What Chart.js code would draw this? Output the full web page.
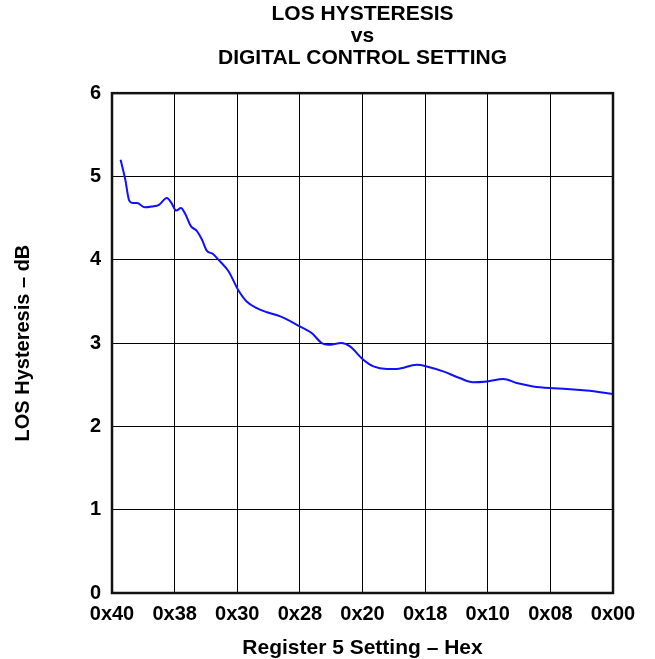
<!DOCTYPE html>
<html>
<head>
<meta charset="utf-8">
<script src="https://cdn.jsdelivr.net/npm/chart.js@4"></script>
<style>
  html, body { margin: 0; padding: 0; background: #fff; }
  #wrap { width: 655px; height: 659px; }
</style>
</head>
<body>
<div id="wrap"><canvas id="chart" width="655" height="659"></canvas></div>
<script>
// Register 5 setting (decimal value of the hex code) vs LOS hysteresis in dB
const regSetting = [62.9, 62.3, 61.8, 61.3, 60.8, 59.8, 58.9, 58.0, 57.0, 56.4, 55.8, 55.2,
  54.7, 53.9, 53.2, 52.5, 51.9, 51.1, 50.2, 49.1, 47.9, 46.8, 45.5, 44.2, 42.5, 40.0,
  38.5, 37.2, 36.4, 34.7, 33.6, 31.9, 30.6, 28.9, 27.6, 25.1, 23.8, 21.7, 19.6, 17.9,
  16.1, 14.0, 12.3, 10.2, 8.1, 5.9, 3.4, 0];
const hysteresis = [5.20, 4.96, 4.71, 4.68, 4.68, 4.63, 4.64, 4.66, 4.74, 4.68, 4.59, 4.62,
  4.56, 4.40, 4.35, 4.24, 4.11, 4.07, 3.98, 3.86, 3.64, 3.50, 3.42, 3.37, 3.32, 3.20,
  3.12, 3.00, 2.98, 3.00, 2.96, 2.80, 2.72, 2.69, 2.69, 2.74, 2.72, 2.66, 2.58, 2.53,
  2.54, 2.57, 2.52, 2.48, 2.46, 2.45, 2.43, 2.39];

// tick positions and their hex labels
const xTickValues = [64, 56, 48, 40, 32, 24, 16, 8, 0];
const xTickLabels = ['0x40', '0x38', '0x30', '0x28', '0x20', '0x18', '0x10', '0x08', '0x00'];
const yTickValues = [0, 1, 2, 3, 4, 5, 6];

const FONT = 'Arial, "Liberation Sans", Helvetica, sans-serif';

// frame around the plot area (thicker than the grid) + title centred over the plot
const frame = {
  id: 'frame',
  afterLayout(chart) {
    const t = chart.titleBlock, a = chart.chartArea;
    if (t) { t.left = a.left; t.right = a.right; t.width = a.right - a.left; }
  },
  afterDatasetsDraw(chart) {
    const a = chart.chartArea, ctx = chart.ctx;
    ctx.save();
    ctx.strokeStyle = '#111';
    ctx.lineWidth = 2.5;
    ctx.strokeRect(a.left, a.top, a.right - a.left, a.bottom - a.top);
    ctx.restore();
  }
};

new Chart(document.getElementById('chart'), {
  type: 'line',
  data: {
    datasets: [{
      data: regSetting.map((x, i) => ({ x: x, y: hysteresis[i] })),
      borderColor: '#1010ff',
      borderWidth: 2,
      pointRadius: 0,
      cubicInterpolationMode: 'monotone',
      fill: false
    }]
  },
  options: {
    responsive: false,
    animation: false,
    layout: { padding: { left: 0, right: 42, top: 0, bottom: 0 } },
    plugins: {
      legend: { display: false },
      tooltip: { enabled: false },
      title: {
        display: true,
        text: ['LOS HYSTERESIS', 'vs', 'DIGITAL CONTROL SETTING'],
        color: '#000',
        font: { family: FONT, size: 21, weight: 'bold', lineHeight: 1.05 },
        padding: { top: 3, bottom: 24 }
      }
    },
    scales: {
      x: {
        type: 'linear',
        min: 0,
        max: 64,
        reverse: true,
        afterFit: s => { s.height = 66; },
        afterBuildTicks: s => { s.ticks = xTickValues.map(v => ({ value: v })); },
        ticks: {
          color: '#000',
          padding: 9,
          maxRotation: 0,
          font: { family: FONT, size: 20, weight: 'bold' },
          callback: v => xTickLabels[xTickValues.indexOf(v)]
        },
        grid: { color: '#000', lineWidth: 1, drawTicks: false },
        border: { display: false },
        title: {
          display: true,
          text: 'Register 5 Setting – Hex',
          color: '#000',
          font: { family: FONT, size: 21, weight: 'bold', lineHeight: 1 },
          padding: { top: 0, bottom: 0 }
        }
      },
      y: {
        min: 0,
        max: 6,
        afterFit: s => { s.width = 112; },
        afterBuildTicks: s => { s.ticks = yTickValues.map(v => ({ value: v })); },
        ticks: {
          color: '#000',
          padding: 11,
          font: { family: FONT, size: 20, weight: 'bold' }
        },
        grid: { color: '#000', lineWidth: 1, drawTicks: false },
        border: { display: false },
        title: {
          display: true,
          text: 'LOS Hysteresis – dB',
          color: '#000',
          font: { family: FONT, size: 20, weight: 'bold' },
          padding: { top: 11, bottom: 0 }
        }
      }
    }
  },
  plugins: [frame]
});
</script>
</body>
</html>
